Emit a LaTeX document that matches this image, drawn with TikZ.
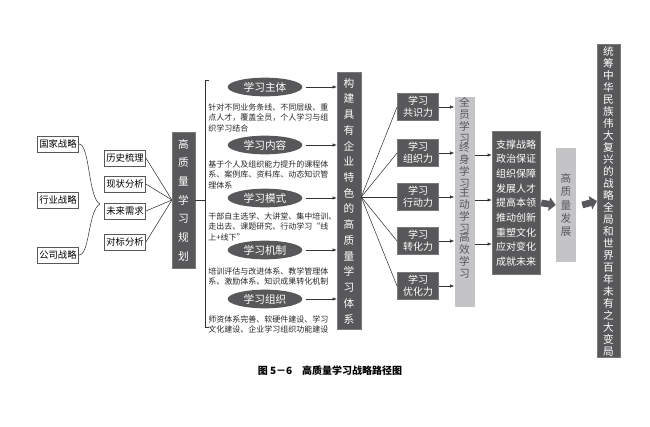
\documentclass[tikz,border=0pt]{standalone}
\usepackage{fontspec}
\setmainfont{Noto Sans CJK SC}
\usetikzlibrary{positioning,shapes.geometric,arrows.meta,calc}
\definecolor{dk}{RGB}{88,88,90}
\definecolor{lt}{RGB}{196,196,198}
\tikzset{
  wbox/.style={draw=dk,fill=white,font=\fontsize{7}{8}\selectfont,inner sep=1.5pt,minimum height=12pt},
  dbox/.style={draw=dk!80,fill=dk,text=white,font=\fontsize{7.5}{9}\selectfont,align=center,inner sep=1pt},
  lbox/.style={fill=lt,text=dk,align=center,inner sep=1pt},
  vlab/.style={text=dk,align=center,font=\fontsize{8}{9}\selectfont,inner sep=0pt},
  oval/.style={ellipse,fill=dk,text=white,font=\fontsize{8}{9}\selectfont,minimum width=56pt,minimum height=14pt,inner sep=0pt},
  note/.style={font=\fontsize{6}{8}\selectfont,align=left,anchor=north west,inner sep=0pt,text=black!85},
  arr/.style={-{Latex[length=3pt,width=2.5pt]},thin,black!80},
  ln/.style={thin,black!80},
  fat/.style={-{Triangle[length=5pt,width=10pt]},line width=5pt,dk}
}
\begin{document}
\begin{tikzpicture}[x=0.75pt,y=-0.75pt]
\useasboundingbox (0,0) rectangle (650,426);
% strategy boxes
\node[wbox] (gj) at (58,144) {国家战略};
\node[wbox] (hy) at (58,200) {行业战略};
\node[wbox] (gs) at (58,255) {公司战略};
\coordinate (br) at (100,204);
\draw[ln] (gj.east) .. controls (90,144) and (88,198) .. (br);
\draw[ln] (gs.east) .. controls (90,255) and (88,210) .. (br);
% analysis boxes
\node[wbox] (ls) at (125,158) {历史梳理};
\node[wbox] (xz) at (125,184) {现状分析};
\node[wbox] (wl) at (125,211) {未来需求};
\node[wbox] (db) at (125,242) {对标分析};
% planning
\node[dbox,minimum width=17pt,minimum height=102pt,font=\fontsize{8}{14}\selectfont] (gh) at (183.5,200) {高\\质\\量\\学\\习\\规\\划};
\foreach \n in {ls,xz,wl,db}
  \draw[ln] (\n.east) -- (gh.west);
% bracket
\coordinate (bt) at (205,80);
\coordinate (bb) at (205,327);
\draw[ln] (gh.east) -- (205,200);
\draw[ln] ($(bt)+(4,0)$) -- (bt) -- (bb) -- ($(bb)+(4,0)$);
% system column
\node[dbox,minimum width=18pt,minimum height=193pt,font=\fontsize{8}{11.8}\selectfont] (tx) at (349,201) {构\\建\\具\\有\\企\\业\\特\\色\\的\\高\\质\\量\\学\\习\\体\\系};
% ovals and notes
\node[oval] (zt) at (265,87) {学习主体};
\node[oval] (nr) at (265,145) {学习内容};
\node[oval] (ms) at (265,198) {学习模式};
\node[oval] (jz) at (265,250) {学习机制};
\node[oval] (zz) at (265,299) {学习组织};
\foreach \n/\y in {zt/87,nr/145,ms/198,jz/250,zz/299}
  \draw[arr] (\n.east) ++(3,0) -- (tx.west |- 0,\y);
\node[note] (t1) at (208,103) {针对不同业务条线、不同层级、重\\点人才，覆盖全员，个人学习与组\\织学习结合};
\node[note] (t2) at (208,160) {基于个人及组织能力提升的课程体\\系、案例库、资料库、动态知识管\\理体系};
\node[note] (t3) at (208,212) {干部自主选学、大讲堂、集中培训、\\走出去、课题研究、行动学习“线\\上+线下”};
\node[note] (t4) at (208,267) {培训评估与改进体系、教学管理体\\系、激励体系、知识成果转化机制};
\node[note] (t5) at (208,315) {师资体系完善、软硬件建设、学习\\文化建设、企业学习组织功能建设};
% abilities
\foreach \n/\t/\y in {gs1/共识力/107,zz1/组织力/153,xd1/行动力/197,zh1/转化力/241,yh1/优化力/286}
{
  \node[dbox,minimum width=31pt,minimum height=20pt] (\n) at (418,\y) {学习\\\t};
  \draw[ln] (tx.east |- 0,197) -- (\n.west);
}
% learning column
\node[lbox,minimum width=15pt,minimum height=158pt] (qy) at (464.5,202) {};
\node[vlab] (q1) at (464.5,120) {全\\员\\学\\习};
\node[vlab] (q2) at (464.5,165) {终\\身\\学\\习};
\node[vlab] (q3) at (464.5,210) {主\\动\\学\\习};
\node[vlab] (q4) at (464.5,255) {高\\效\\学\\习};
\foreach \n in {gs1,zz1,xd1,zh1,yh1}
  \draw[arr] (\n.east) -- (qy.west |- \n.east);
% goals
\node[dbox,minimum width=36pt,minimum height=107pt,font=\fontsize{7.5}{11}\selectfont] (mb) at (516,203) {支撑战略\\政治保证\\组织保障\\发展人才\\提高本领\\推动创新\\重塑文化\\应对变化\\成就未来};
\foreach \y in {155,200,244}
  \draw[arr] (qy.east |- 0,\y) -- (mb.west |- 0,\y);
\node[lbox,minimum width=15pt,minimum height=86pt,font=\fontsize{8}{10}\selectfont] (fz) at (566,205) {高\\质\\量\\发\\展};
\draw[fat] (mb.east) ++(1,0) -- (fz.west);
\node[dbox,minimum width=17pt,minimum height=231pt,font=\fontsize{8}{9}\selectfont] (qj) at (608.5,201) {统\\筹\\中\\华\\民\\族\\伟\\大\\复\\兴\\的\\战\\略\\全\\局\\和\\世\\界\\百\\年\\未\\有\\之\\大\\变\\局};
\draw[fat] (fz.east) ++(6,0) -- (qj.west);
% caption
\node[font=\bfseries\fontsize{7.5}{9}\selectfont] (cap) at (330,371) {图 5－6\quad 高质量学习战略路径图};
\end{tikzpicture}
\end{document}
